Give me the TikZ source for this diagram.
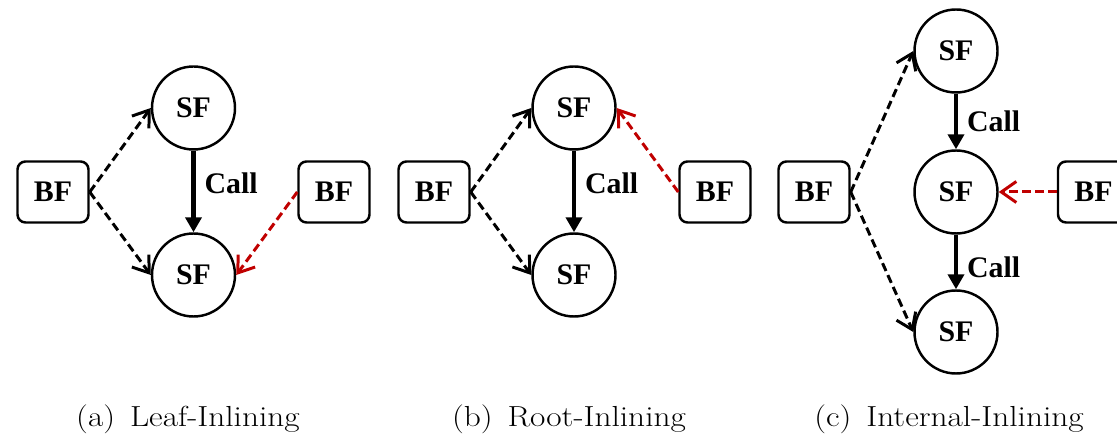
\documentclass[tikz,border=0pt]{standalone}
\usepackage{fontspec}
\newfontfamily\boxfont{Liberation Serif}
\newfontfamily\capfont{Latin Modern Roman}[FakeStretch=1.15]
\usetikzlibrary{arrows.meta}
\definecolor{inlred}{RGB}{192,0,0}

\begin{document}
\begin{tikzpicture}[line cap=round,line join=round,
  sfnode/.style={circle,draw,line width=1.4pt,minimum size=1.66cm,inner sep=0pt,
    font=\boxfont\bfseries\fontsize{17}{19}\selectfont},
  bfnode/.style={rectangle,draw,rounded corners=0.16cm,line width=1.4pt,
    minimum width=1.42cm,minimum height=1.22cm,inner sep=0pt,
    font=\boxfont\bfseries\fontsize{17}{19}\selectfont},
  calledge/.style={line width=2.6pt,line cap=butt,-{Triangle[length=0.3cm,width=0.32cm]}},
  bfedge/.style={line width=1.7pt,line cap=butt,dash pattern=on 0.17cm off 0.09cm,
    -{Straight Barb[length=0.3cm,width=0.42cm]}},
  inledge/.style={bfedge,draw=inlred},
  calllabel/.style={right,xshift=0.06cm,font=\boxfont\bfseries\fontsize{17}{19}\selectfont},
  caption/.style={anchor=base,font=\capfont\fontsize{16.5}{19}\selectfont}]
  \useasboundingbox (0,0) rectangle (22.34,8.78);
  \clip (0,0) rectangle (22.34,8.78);

  % (a) leaf
  \node[bfnode] (bfa) at (1.06,4.94) {BF};
  \node[sfnode] (sfa1) at (3.87,6.62) {SF};
  \node[sfnode] (sfa2) at (3.87,3.28) {SF};
  \node[bfnode] (bfa2) at (6.68,4.94) {BF};
  \draw[calledge] (sfa1) -- node[calllabel,pos=0.4] {Call} (sfa2);
  \draw[bfedge] (bfa.east) -- (sfa1.west);
  \draw[bfedge] (bfa.east) -- (sfa2.west);
  \draw[inledge] (bfa2.west) -- (sfa2.east);
  \node[caption] (capa) at (3.76,0.24) {(a)~\,Leaf-Inlining};

  % (b) root
  \node[bfnode] (bfb) at (8.68,4.94) {BF};
  \node[sfnode] (sfb1) at (11.48,6.62) {SF};
  \node[sfnode] (sfb2) at (11.48,3.28) {SF};
  \node[bfnode] (bfb2) at (14.30,4.94) {BF};
  \draw[calledge] (sfb1) -- node[calllabel,pos=0.4] {Call} (sfb2);
  \draw[bfedge] (bfb.east) -- (sfb1.west);
  \draw[bfedge] (bfb.east) -- (sfb2.west);
  \draw[inledge] (bfb2.west) -- (sfb1.east);
  \node[caption] (capb) at (11.38,0.24) {(b)~\,Root-Inlining};

  % (c) internal
  \node[bfnode] (bfc) at (16.28,4.94) {BF};
  \node[sfnode] (sfc1) at (19.12,7.76) {SF};
  \node[sfnode] (sfc2) at (19.12,4.94) {SF};
  \node[sfnode] (sfc3) at (19.12,2.14) {SF};
  \node[bfnode] (bfc2) at (21.87,4.94) {BF};
  \draw[calledge] (sfc1) -- node[calllabel,pos=0.5] {Call} (sfc2);
  \draw[calledge] (sfc2) -- node[calllabel,pos=0.6] {Call} (sfc3);
  \draw[bfedge] (bfc.east) -- (sfc1.west);
  \draw[bfedge] (bfc.east) -- (sfc3.west);
  \draw[inledge] (bfc2.west) -- (sfc2.east);
  \node[caption] (capc) at (18.98,0.24) {(c)~\,Internal-Inlining};
\end{tikzpicture}
\end{document}
